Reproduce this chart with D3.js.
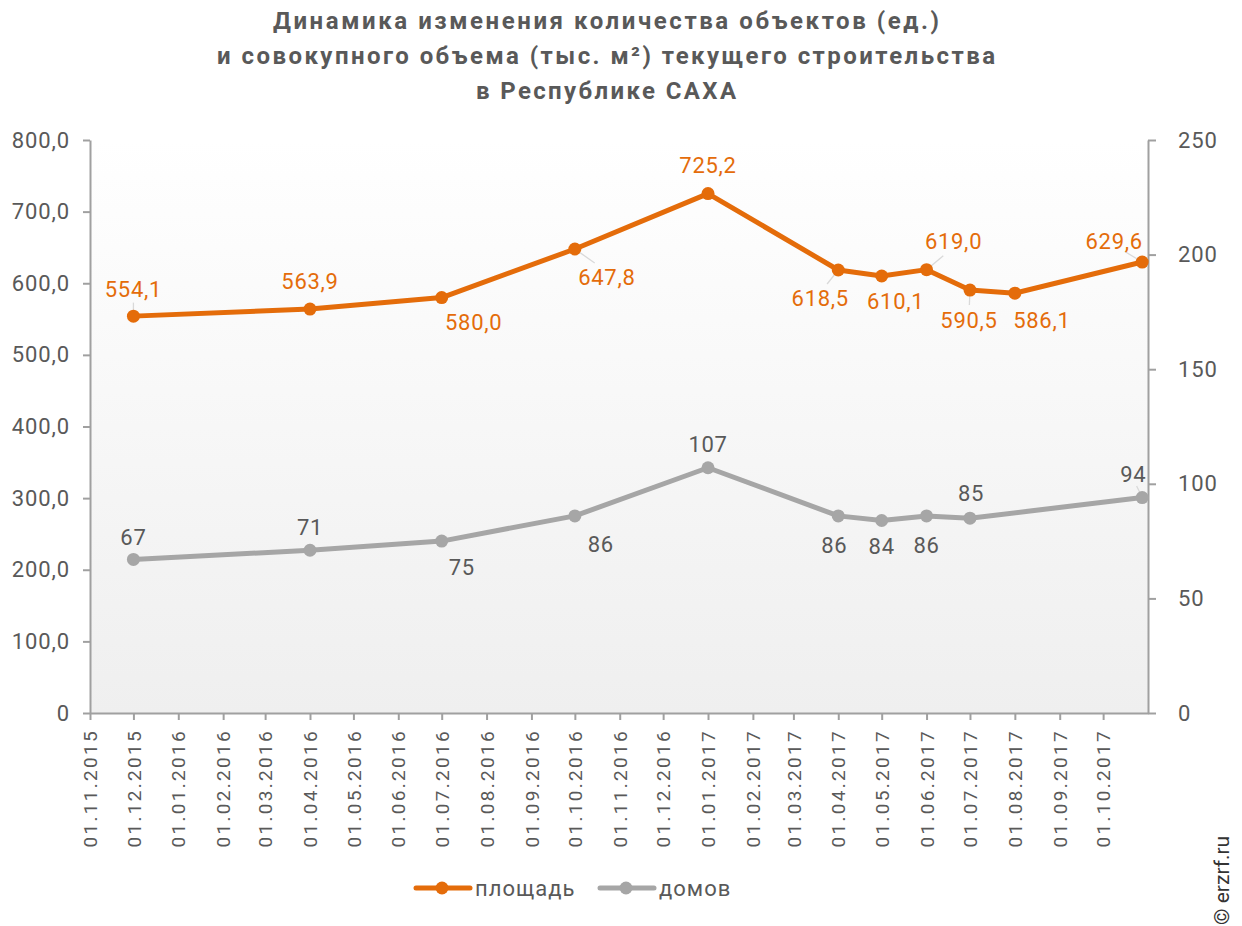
<!DOCTYPE html>
<html>
<head>
<meta charset="utf-8">
<script src="https://d3js.org/d3.v7.min.js"></script>
<style>
  body { margin: 0; background: #fff; }
  text { font-family: Roboto, "Noto Sans", sans-serif; }
</style>
</head>
<body>
<div id="chart"></div>
<script>
// Data
const titleLines = [
    "Динамика изменения количества объектов (ед.)",
    "и совокупного объема (тыс. м²) текущего строительства",
    "в Республике САХА"
];
const dates = ["2015-12-01", "2016-04-01", "2016-07-01", "2016-10-01", "2017-01-01",
    "2017-04-01", "2017-05-01", "2017-06-01", "2017-07-01", "2017-08-01", "2017-10-28"];
const area = [554.1, 563.9, 580.0, 647.8, 725.2, 618.5, 610.1, 619.0, 590.5, 586.1, 629.6];
const houses = [67, 71, 75, 86, 107, 86, 84, 86, 85, null, 94];
const seriesNames = ["площадь", "домов"];
const leftTicks = [0, 100, 200, 300, 400, 500, 600, 700, 800];
const rightTicks = [0, 50, 100, 150, 200, 250];

// label placement (offset of label centre from point, px) and leader-line flags
const areaLabelPos = [[0, -27], [0, -28], [32, 25], [32, 28], [0, -28], [-18, 28], [14, 25], [27, -28], [-1, 30], [27, 27], [-28, -21]];
const areaLeader = [true, false, false, true, false, true, false, true, true, false, true];
const houseLabelPos = [[0, -22], [0, -23], [20, 26], [26, 28], [0, -23], [-4, 29], [0, 26], [0, 29], [1, -25], null, [-9, -23]];
const houseLeader = [false, false, false, false, false, false, false, false, false, false, true];
const titleWidths = [666, 778, 260];

const width = 1242;
const height = 926;
const margin = { top: 140, right: 94, bottom: 213, left: 90 };

const orange = "#E46C0A";
const gray = "#A6A6A6";
const textColor = "#595959";
const axisColor = "#A0A0A0";

const parse = d3.timeParse("%Y-%m-%d");
const fmtLeft = d => d === 0 ? "0" : d3.format(".1f")(d).replace(".", ",");
const fmtArea = d => d3.format(".1f")(d).replace(".", ",");
const fmtTick = d3.timeFormat("%d.%m.%Y");

const svg = d3.select("#chart").append("svg")
    .attr("width", width)
    .attr("height", height);

const x = d3.scaleTime()
    .domain([parse("2015-11-01"), parse("2017-11-01")])
    .range([margin.left, width - margin.right]);
const yL = d3.scaleLinear().domain([0, 800]).range([height - margin.bottom, margin.top]);
const yR = d3.scaleLinear().domain([0, 250]).range([height - margin.bottom, margin.top]);

// plot background gradient
const grad = svg.append("defs").append("linearGradient")
    .attr("id", "bg").attr("x1", 0).attr("y1", 0).attr("x2", 0).attr("y2", 1);
grad.append("stop").attr("offset", "0%").attr("stop-color", "#ffffff");
grad.append("stop").attr("offset", "100%").attr("stop-color", "#efefef");

svg.append("rect")
    .attr("x", margin.left)
    .attr("y", margin.top)
    .attr("width", width - margin.left - margin.right)
    .attr("height", height - margin.top - margin.bottom)
    .attr("fill", "url(#bg)");

// title
svg.append("g").selectAll("text")
    .data(titleLines)
    .join("text")
    .attr("x", 606)
    .attr("y", (d, i) => 29 + i * 35)
    .attr("text-anchor", "middle")
    .attr("font-size", 24)
    .attr("font-weight", 700)
    .attr("fill", textColor)
    .attr("textLength", (d, i) => titleWidths[i])
    .attr("lengthAdjust", "spacing")
    .text(d => d);

// axes
const monthTicks = d3.timeMonth.range(parse("2015-11-01"), parse("2017-11-01"));

const xAxis = svg.append("g")
    .attr("transform", `translate(0,${height - margin.bottom})`)
    .call(d3.axisBottom(x).tickValues(monthTicks).tickFormat(fmtTick).tickSize(7).tickSizeOuter(0));
xAxis.selectAll("text")
    .attr("transform", "rotate(-90)")
    .attr("text-anchor", "end")
    .attr("x", -16)
    .attr("y", 0)
    .attr("dy", "0.35em")
    .attr("font-size", 19)
    .attr("letter-spacing", 2.3);

const leftAxis = svg.append("g")
    .attr("transform", `translate(${margin.left},0)`)
    .call(d3.axisLeft(yL).tickValues(leftTicks).tickFormat(fmtLeft).tickSize(7).tickPadding(13).tickSizeOuter(0));
leftAxis.selectAll("text").attr("font-size", 22).attr("letter-spacing", 0.9);

const rightAxis = svg.append("g")
    .attr("transform", `translate(${width - margin.right},0)`)
    .call(d3.axisRight(yR).tickValues(rightTicks).tickSize(8).tickPadding(22).tickSizeOuter(0));
rightAxis.selectAll("text").attr("font-size", 22).attr("letter-spacing", 0.9);

[xAxis, leftAxis, rightAxis].forEach(a => {
    a.select(".domain").attr("stroke", axisColor).attr("stroke-width", 2);
    a.selectAll(".tick line").attr("stroke", axisColor).attr("stroke-width", 2);
    a.selectAll(".tick text").attr("fill", textColor);
});

// series
const areaData = dates.map((d, i) => ({ date: parse(d), value: area[i], pos: areaLabelPos[i], leader: areaLeader[i] }));
const houseData = dates.map((d, i) => ({ date: parse(d), value: houses[i], pos: houseLabelPos[i], leader: houseLeader[i] }))
    .filter(d => d.value !== null);

function drawSeries(data, y, color, labelColor, fmt) {
    const g = svg.append("g");
    g.append("path")
        .datum(data)
        .attr("fill", "none")
        .attr("stroke", color)
        .attr("stroke-width", 5)
        .attr("stroke-linejoin", "round")
        .attr("d", d3.line().x(d => x(d.date)).y(d => y(d.value)));

    // leader lines
    g.selectAll(".leader")
        .data(data.filter(d => d.leader))
        .join("line")
        .attr("stroke", "#D9D9D9")
        .attr("stroke-width", 1.3)
        .attr("x1", d => x(d.date))
        .attr("y1", d => y(d.value))
        .attr("x2", d => x(d.date) + d.pos[0] * 0.62)
        .attr("y2", d => y(d.value) + d.pos[1] * 0.5);

    g.selectAll("circle")
        .data(data)
        .join("circle")
        .attr("cx", d => x(d.date))
        .attr("cy", d => y(d.value))
        .attr("r", 6.5)
        .attr("fill", color);

    g.selectAll(".lbl")
        .data(data)
        .join("text")
        .attr("x", d => x(d.date) + d.pos[0])
        .attr("y", d => y(d.value) + d.pos[1])
        .attr("dy", "0.35em")
        .attr("text-anchor", "middle")
        .attr("font-size", 22)
        .attr("letter-spacing", 0.7)
        .attr("fill", labelColor)
        .text(d => fmt(d.value));
}

drawSeries(houseData, yR, gray, textColor, d => d);
drawSeries(areaData, yL, orange, orange, fmtArea);

// legend
const legend = svg.append("g").attr("transform", "translate(0,888)");
const legendItems = [
    { name: seriesNames[0], color: orange, x: 416 },
    { name: seriesNames[1], color: gray, x: 600 }
];
legendItems.forEach(item => {
    legend.append("line")
        .attr("x1", item.x).attr("x2", item.x + 54)
        .attr("y1", 0).attr("y2", 0)
        .attr("stroke", item.color)
        .attr("stroke-width", 5)
        .attr("stroke-linecap", "round");
    legend.append("circle")
        .attr("cx", item.x + 26).attr("cy", 0)
        .attr("r", 6.5)
        .attr("fill", item.color);
    legend.append("text")
        .attr("x", item.x + 59)
        .attr("y", 0)
        .attr("dy", "0.35em")
        .attr("font-size", 22)
        .attr("letter-spacing", 1)
        .attr("fill", textColor)
        .text(item.name);
});

// copyright
svg.append("text")
    .attr("transform", "translate(1229,925) rotate(-90)")
    .attr("font-size", 21)
    .attr("fill", "#333")
    .text("© erzrf.ru");
</script>
</body>
</html>
